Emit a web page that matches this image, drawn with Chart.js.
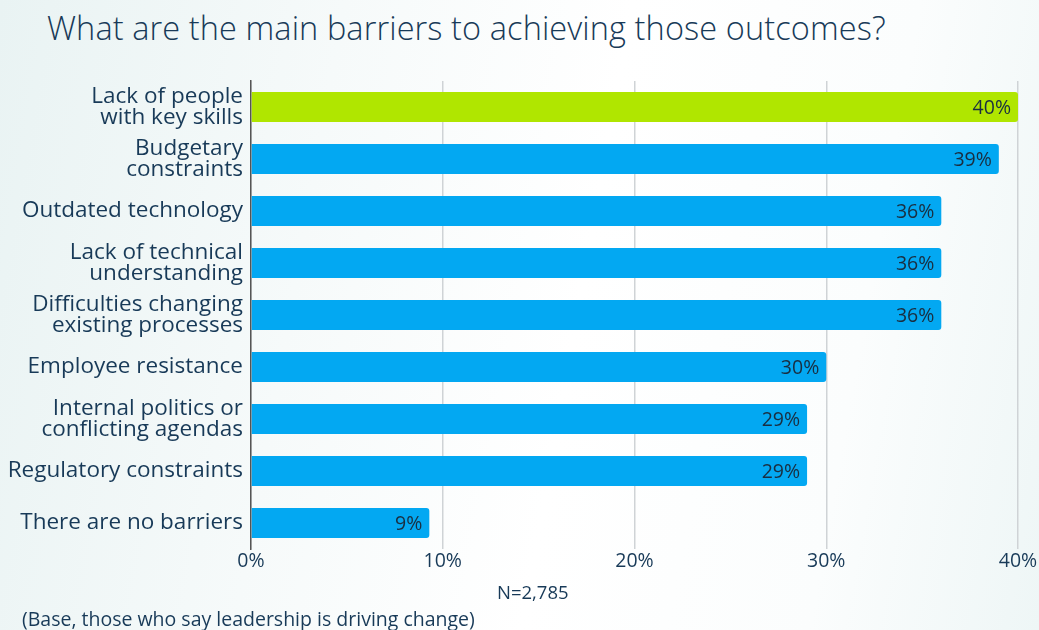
<!DOCTYPE html>
<html>
<head>
<meta charset="utf-8">
<script src="https://cdn.jsdelivr.net/npm/chart.js@4"></script>
<style>
  html, body { margin: 0; padding: 0; }
  body {
    width: 1039px; height: 630px; overflow: hidden; position: relative;
    background: linear-gradient(100deg, #e9f3f3 0%, #f6fafa 30%, #ffffff 55%, #fbfdfd 80%, #eef6f6 100%);
    font-family: "Open Sans", sans-serif; color: #183a58;
  }
  #title { position: absolute; left: 47px; top: 5px; font-size: 32.5px; font-weight: 300; white-space: nowrap; letter-spacing: 0.1px; }
  #n { position: absolute; left: 497px; top: 579px; font-size: 18.5px; }
  #base { position: absolute; left: 22px; top: 605px; font-size: 19.5px; white-space: nowrap; }
  #wrap { position: absolute; left: 0; top: 0; width: 1039px; height: 630px; }
</style>
</head>
<body>
<div id="title">What are the main barriers to achieving those outcomes?</div>
<div id="wrap"><canvas id="myChart"></canvas></div>
<div id="n">N=2,785</div>
<div id="base">(Base, those who say leadership is driving change)</div>
<script>
const categories = [
  ['Lack of people', 'with key skills'],
  ['Budgetary', 'constraints'],
  'Outdated technology',
  ['Lack of technical', 'understanding'],
  ['Difficulties changing', 'existing processes'],
  'Employee resistance',
  ['Internal politics or', 'conflicting agendas'],
  'Regulatory constraints',
  'There are no barriers'
];
const values = [40, 39, 36, 36, 36, 30, 29, 29, 9.3];
const barColors = ['#b0e600', '#03a8f2', '#03a8f2', '#03a8f2', '#03a8f2', '#03a8f2', '#03a8f2', '#03a8f2', '#03a8f2'];
const xTicks = [0, 10, 20, 30, 40];

// draws the value at the end of each bar
const valueLabels = {
  id: 'valueLabels',
  afterDatasetsDraw(chart) {
    const ctx = chart.ctx;
    ctx.save();
    ctx.font = '19.5px "Open Sans"';
    ctx.fillStyle = '#1a2e40';
    ctx.textAlign = 'right';
    ctx.textBaseline = 'middle';
    chart.getDatasetMeta(0).data.forEach((bar, i) => {
      ctx.fillText(Math.round(values[i]) + '%', bar.x - 7, bar.y + 1);
    });
    ctx.restore();
  }
};

const config = {
  type: 'bar',
  data: {
    labels: categories,
    datasets: [{
      data: values,
      backgroundColor: barColors,
      borderRadius: 3,
      borderSkipped: 'start',
      barPercentage: 0.58,
      categoryPercentage: 1
    }]
  },
  options: {
    indexAxis: 'y',
    responsive: true,
    maintainAspectRatio: false,
    animation: false,
    layout: { padding: { left: 0, right: 21, top: 81, bottom: 51 } },
    plugins: {
      legend: { display: false },
      tooltip: { enabled: false }
    },
    scales: {
      x: {
        min: 0,
        max: 40,
        afterBuildTicks: s => { s.ticks = xTicks.map(v => ({ value: v })); },
        afterFit: s => { s.height = 30; },
        border: { display: false },
        grid: { color: '#cfd3d6', lineWidth: 1.5, drawTicks: false },
        ticks: {
          padding: 1,
          color: '#183a58',
          font: { family: 'Open Sans', size: 19.5 },
          callback: v => v + '%'
        }
      },
      y: {
        afterFit: s => { s.width = 251; },
        border: { display: true, color: '#555', width: 1.5 },
        grid: { display: false, drawTicks: false },
        ticks: {
          padding: 8,
          color: '#183a58',
          font: { family: 'Open Sans', size: 22.5, lineHeight: 0.9 }
        }
      }
    }
  },
  plugins: [valueLabels]
};

var ctx = document.getElementById('myChart').getContext('2d');
var chart = new Chart(ctx, config);
</script>
</body>
</html>
